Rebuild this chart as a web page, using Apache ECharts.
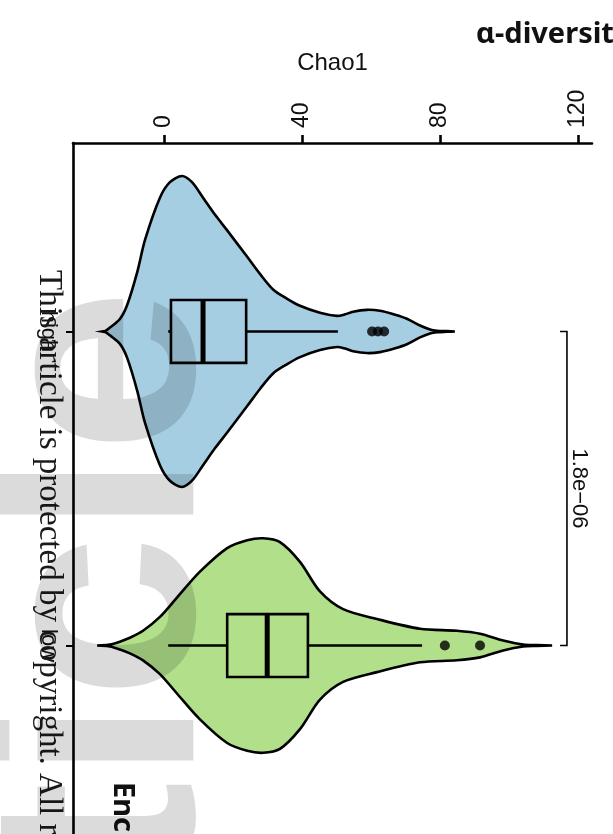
<!DOCTYPE html>
<html>
<head>
<meta charset="utf-8">
<script src="https://cdn.jsdelivr.net/npm/echarts@6/dist/echarts.min.js"></script>
<style>
  html, body { margin: 0; padding: 0; background: #ffffff; }
  #chart { width: 613px; height: 834px; }
</style>
</head>
<body>
<div id="chart"></div>
<script>
// Groups and Chao1 axis ticks
const categories = ['high', 'low'];
const chao1Ticks = [0, 40, 80, 120];

// Kernel density outline of each group: Chao1 value and relative density (peak = 100)
const highDensityValues = [-18.0, -17.0, -15.7, -12.8, -10.7, -7.8, -5.5, -1.2, 1.7, 5.2, 8.1, 11.3, 14.8, 18.3, 24.1, 27.8, 31.6, 35.7, 39.4, 45.2, 50.1, 52.5, 54.8, 58.8, 62.6, 67.0, 70.4, 74.2, 77.1, 79.1, 82.0, 84.3];
const highDensity       = [0, 0.4, 2.5, 8, 17, 38, 59, 86, 96, 100, 96, 86, 75, 65, 48, 37, 27, 21, 16.5, 12, 10, 11, 12.7, 13.9, 13.3, 10.8, 8.2, 3.8, 1.3, 0.5, 0.2, 0];
const lowDensityValues  = [-19.4, -15.7, -12.8, -9.9, -6.1, -1.2, 3.8, 10.4, 18.3, 24.1, 28.7, 33.6, 39.4, 45.2, 51.9, 61.7, 74.2, 84.9, 91.6, 98.3, 104.1, 108.0, 112.5];
const lowDensity        = [0, 0.6, 2.5, 5, 9.5, 18.4, 31, 47.5, 62.7, 67.7, 69, 66.5, 53.8, 34.8, 23.4, 17.1, 10.8, 9.5, 7.6, 3.2, 0.6, 0.25, 0];

// Box statistics: lower whisker, Q1, median, Q3, upper whisker
const highBox = [1.2, 2.0, 11.3, 23.8, 50.4];
const lowBox  = [1.2, 18.3, 29.9, 41.7, 74.8];
const highOutliers = [60.3, 62.0, 63.8];
const lowOutliers  = [81.4, 91.6];

// Wilcoxon test between the two groups
const pValueText = '1.8e\u221206';

// ---- drawing settings ----
const fills = ['#a6cee3', '#b2df8a'];
const VIOLIN_HALF = 0.495;   // half width (category units) at peak density
const BOX_HALF = 0.1;
const BRACKET_AT = 116.8;
const BRACKET_TICK = 2.0;
const ROT = -Math.PI / 2;
const SANS = '"Liberation Sans", Arial, sans-serif';

const densityOf = [null, { v: highDensityValues, d: highDensity }, { v: lowDensityValues, d: lowDensity }];
const boxOf = [null, highBox, lowBox];

function violinItem(params, api) {
  const cat = api.value(0);
  const src = densityOf[cat];
  const upper = [], lower = [];
  for (let i = 0; i < src.v.length; i++) {
    const hw = src.d[i] / 100 * VIOLIN_HALF;
    upper.push(api.coord([src.v[i], cat - hw]));
    lower.push(api.coord([src.v[i], cat + hw]));
  }
  return {
    type: 'polygon',
    shape: { points: upper.concat(lower.reverse()), smooth: 0.3 },
    style: { fill: fills[cat - 1], stroke: '#000', lineWidth: 2.6 }
  };
}

function boxItem(params, api) {
  const cat = api.value(0);
  const s = boxOf[cat];
  const lw = api.coord([s[0], cat]);
  const q1 = api.coord([s[1], cat]);
  const q3 = api.coord([s[3], cat]);
  const hiW = api.coord([s[4], cat]);
  const a = api.coord([s[1], cat - BOX_HALF]);
  const b = api.coord([s[3], cat + BOX_HALF]);
  const m1 = api.coord([s[2], cat - BOX_HALF]);
  const m2 = api.coord([s[2], cat + BOX_HALF]);
  const line = { stroke: '#000', lineWidth: 2.6 };
  return {
    type: 'group',
    children: [
      { type: 'line', shape: { x1: lw[0], y1: lw[1], x2: q1[0], y2: q1[1] }, style: line },
      { type: 'line', shape: { x1: q3[0], y1: q3[1], x2: hiW[0], y2: hiW[1] }, style: line },
      { type: 'rect', shape: { x: a[0], y: a[1], width: b[0] - a[0], height: b[1] - a[1] },
        style: { fill: fills[cat - 1], stroke: '#000', lineWidth: 2.6 } },
      { type: 'line', shape: { x1: m1[0], y1: m1[1], x2: m2[0], y2: m2[1] }, style: { stroke: '#000', lineWidth: 5 } }
    ]
  };
}

function bracketItem(params, api) {
  const top = api.coord([BRACKET_AT, 1]);
  const bot = api.coord([BRACKET_AT, 2]);
  const topL = api.coord([BRACKET_AT - BRACKET_TICK, 1]);
  const botL = api.coord([BRACKET_AT - BRACKET_TICK, 2]);
  return {
    type: 'group',
    children: [
      { type: 'polyline', shape: { points: [topL, top, bot, botL] }, style: { stroke: '#000', lineWidth: 1.6, fill: null } },
      { type: 'text', x: top[0] + 12, y: (top[1] + bot[1]) / 2, rotation: ROT,
        style: { text: pValueText, font: '22px ' + SANS, fill: '#111', align: 'center', verticalAlign: 'middle' } }
    ]
  };
}

const outlierData = highOutliers.map(v => [v, 1]).concat(lowOutliers.map(v => [v, 2]));

const chart = echarts.init(document.getElementById('chart'), null, { renderer: 'canvas' });
chart.setOption({
  animation: false,
  backgroundColor: '#ffffff',
  grid: { left: 73, right: 21, top: 143, bottom: -9.4, containLabel: false },
  xAxis: {
    type: 'value', position: 'top', min: -26.4, max: 124.06,
    name: 'Chao1', nameLocation: 'middle', nameGap: 68,
    nameTextStyle: { fontFamily: SANS, fontSize: 24, color: '#111' },
    axisLine: { show: true, onZero: false, lineStyle: { color: '#000', width: 2.6 } },
    axisTick: { show: true, length: 8, lineStyle: { color: '#000', width: 2.6 }, customValues: chao1Ticks },
    axisLabel: { show: true, rotate: -90, margin: 15, fontFamily: SANS, fontSize: 23, color: '#111', customValues: chao1Ticks },
    splitLine: { show: false }
  },
  yAxis: {
    type: 'value', inverse: true, min: 0.4, max: 2.6,
    axisLine: { show: true, onZero: false, lineStyle: { color: '#000', width: 2.6 } },
    axisTick: { show: true, length: 7, lineStyle: { color: '#000', width: 2 }, customValues: [1, 2] },
    axisLabel: {
      show: true, rotate: -90, margin: 14, fontFamily: SANS, fontSize: 22, color: '#111',
      customValues: [1, 2], formatter: v => categories[Math.round(v) - 1]
    },
    splitLine: { show: false }
  },
  series: [
    { type: 'custom', renderItem: violinItem, data: [[1], [2]], encode: { y: 0 }, clip: false, z: 2 },
    { type: 'custom', renderItem: boxItem, data: [[1], [2]], encode: { y: 0 }, clip: false, z: 3 },
    { type: 'scatter', data: outlierData, symbol: 'circle', symbolSize: 10,
      itemStyle: { color: '#000', borderWidth: 0 }, z: 4 },
    { type: 'custom', renderItem: bracketItem, data: [[1]], encode: { y: 0 }, clip: false, z: 4 }
  ],
  graphic: [
    // translucent page watermark along the left margin
    { type: 'text', x: 112, y: 289, rotation: Math.PI / 2, z: 20, silent: true,
      style: { text: 'Article', font: 'bold 295px "Liberation Sans", Arial, sans-serif',
               fill: 'rgba(0,0,0,0.14)', align: 'right', verticalAlign: 'middle' } },
    { type: 'text', left: 476, top: 20, z: 10,
      style: { text: '\u03b1-diversity', font: 'bold 29px "Noto Sans", sans-serif', fill: '#111' } },
    { type: 'text', x: 48.5, y: 270, rotation: ROT, z: 10,
      style: { text: 'This article is protected by copyright. All rights reserved.', font: '33px "Liberation Serif", "Times New Roman", serif',
               fill: '#1a1a1a', align: 'left', verticalAlign: 'middle' } },
    { type: 'text', x: 122, y: 782, rotation: ROT, z: 10,
      style: { text: 'Enc', font: 'bold 29px "Noto Sans", sans-serif', fill: '#111', align: 'left', verticalAlign: 'middle' } }
  ]
});
</script>
</body>
</html>
